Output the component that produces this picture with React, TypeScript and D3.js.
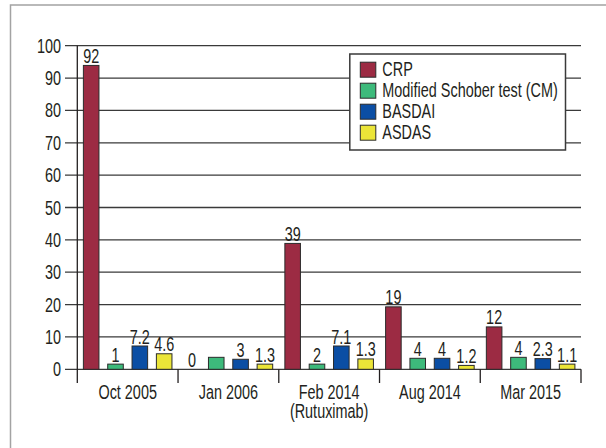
import { range, scaleBand, scaleLinear } from "d3";

const categories = ["Oct 2005", "Jan 2006", "Feb 2014", "Aug 2014", "Mar 2015"];
const categoryNotes = ["", "", "(Rutuximab)", "", ""];
const seriesNames = ["CRP", "Modified Schober test (CM)", "BASDAI", "ASDAS"];
const seriesColors = ["#9c2b43", "#3dba7b", "#0b4ea4", "#ebe538"];

// bar heights as drawn, and the labels printed above them
const crpValues = [93.9, 0, 38.9, 19.3, 13.1];
const crpLabels = ["92", "0", "39", "19", "12"];
const schoberValues = [1.6, 3.7, 1.6, 3.4, 3.7];
const schoberLabels = ["1", "", "2", "4", "4"];
const basdaiValues = [7.2, 3.1, 7.2, 3.4, 3.3];
const basdaiLabels = ["7.2", "3", "7.1", "4", "2.3"];
const asdasValues = [4.8, 1.6, 3.2, 1.2, 1.6];
const asdasLabels = ["4.6", "1.3", "1.3", "1.2", "1.1"];
const yTicks = range(0, 101, 10);

const seriesValues = [crpValues, schoberValues, basdaiValues, asdasValues];
const seriesLabels = [crpLabels, schoberLabels, basdaiLabels, asdasLabels];

// condensed look: Arial-metric font squeezed horizontally
function Label({
  x,
  y,
  anchor = "start",
  children,
}: {
  x: number;
  y: number;
  anchor?: "start" | "middle" | "end";
  children: React.ReactNode;
}) {
  return (
    <text
      transform={`translate(${x},${y}) scale(0.74,1)`}
      textAnchor={anchor}
      fontFamily="'Liberation Sans', Arial, sans-serif"
      fontSize="19.5"
      fill="#231f20"
    >
      {children}
    </text>
  );
}

export default function App() {
  const width = 606;
  const height = 448;
  const left = 77.3;
  const right = 581;
  const top = 45.7;
  const bottom = 369.3;

  const x = scaleBand().domain(categories).range([left, right]).padding(0);
  const xInner = scaleBand<number>()
    .domain([0, 1, 2, 3])
    .range([0, x.bandwidth()])
    .paddingInner(0.36)
    .paddingOuter(0.25);
  const y = scaleLinear().domain([0, 100]).range([bottom, top]);

  const legendX = 349.8;
  const legendY = 54;
  const rowStep = 21;

  return (
    <div style={{ position: "absolute", left: 0, top: 0 }}>
      <svg width={width} height={height} style={{ display: "block", background: "#fff" }}>
        <rect x="10.5" y="5" width="700" height="500" fill="#fff" stroke="#a3a3a3" strokeWidth="1.5" />

        {yTicks.map((t) => (
          <g key={t}>
            <line x1={65} x2={right} y1={y(t)} y2={y(t)} stroke="#3a3a3a" strokeWidth="1.3" />
            <Label x={61} y={y(t) + 7} anchor="end">
              {t}
            </Label>
          </g>
        ))}

        <line x1={left} x2={left} y1={top} y2={383} stroke="#231f20" strokeWidth="1.3" />
        {categories.map((c) => (
          <line
            key={c}
            x1={(x(c) ?? 0) + x.bandwidth()}
            x2={(x(c) ?? 0) + x.bandwidth()}
            y1={bottom}
            y2={383}
            stroke="#231f20"
            strokeWidth="1.3"
          />
        ))}

        {categories.map((c, ci) => (
          <g key={c}>
            {seriesValues.map((vals, si) => {
              const bx = (x(c) ?? 0) + (xInner(si) ?? 0);
              const bw = xInner.bandwidth();
              const v = vals[ci];
              const label = seriesLabels[si][ci];
              return (
                <g key={si}>
                  {v > 0 ? (
                    <rect
                      x={bx}
                      y={y(v)}
                      width={bw}
                      height={bottom - y(v)}
                      fill={seriesColors[si]}
                      stroke="#2b2b2b"
                      strokeWidth="1"
                    />
                  ) : null}
                  {label ? (
                    <Label x={bx + bw / 2} y={y(v) - 2.5} anchor="middle">
                      {label}
                    </Label>
                  ) : null}
                </g>
              );
            })}
            <Label x={(x(c) ?? 0) + x.bandwidth() / 2} y={399.3} anchor="middle">
              {c}
            </Label>
            {categoryNotes[ci] ? (
              <Label x={(x(c) ?? 0) + x.bandwidth() / 2} y={417.5} anchor="middle">
                {categoryNotes[ci]}
              </Label>
            ) : null}
          </g>
        ))}

        <g>
          <rect
            x={legendX}
            y={legendY}
            width={215.7}
            height={96}
            fill="#fff"
            stroke="#3a3a3a"
            strokeWidth="1.5"
          />
          {seriesNames.map((name, i) => {
            const cy = legendY + 15.7 + i * rowStep;
            return (
              <g key={name}>
                <rect
                  x={legendX + 10.5}
                  y={cy - 7.5}
                  width={15.5}
                  height={15}
                  fill={seriesColors[i]}
                  stroke="#2b2b2b"
                  strokeWidth="1"
                />
                <Label x={legendX + 32.5} y={cy + 6}>
                  {name}
                </Label>
              </g>
            );
          })}
        </g>
      </svg>
    </div>
  );
}
